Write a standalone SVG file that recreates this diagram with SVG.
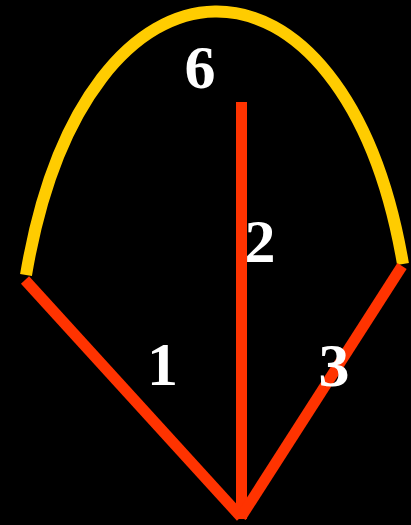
<svg xmlns="http://www.w3.org/2000/svg" width="411" height="525" viewBox="0 0 411 525">
<style>
.red{stroke:#FF3300;stroke-width:11;fill:none;stroke-linecap:butt}
.arc{stroke:#FFCC00;stroke-width:12;fill:none;stroke-linecap:butt}
.lbl{font-family:"Liberation Serif","Times New Roman",serif;font-weight:bold;font-size:62px;fill:#FFFFFF;text-anchor:middle}
</style>
<rect width="411" height="525" fill="#000000"/>
<g id="connectors">
<path id="edge6" class="arc" d="M26,275 C85,-74.5 345,-74.5 403,264"/>
<line id="edge1" class="red" x1="25" y1="280" x2="241" y2="517"/>
<line id="edge2" class="red" x1="241.5" y1="102" x2="241.5" y2="519"/>
<line id="edge3" class="red" x1="402" y1="266" x2="241" y2="517"/>
</g>
<g id="label6"><text class="lbl" x="200" y="88">6</text></g>
<g id="label2"><text class="lbl" x="260" y="262">2</text></g>
<g id="label1"><text class="lbl" x="162.5" y="385">1</text></g>
<g id="label3"><text class="lbl" x="334" y="386">3</text></g>
</svg>
